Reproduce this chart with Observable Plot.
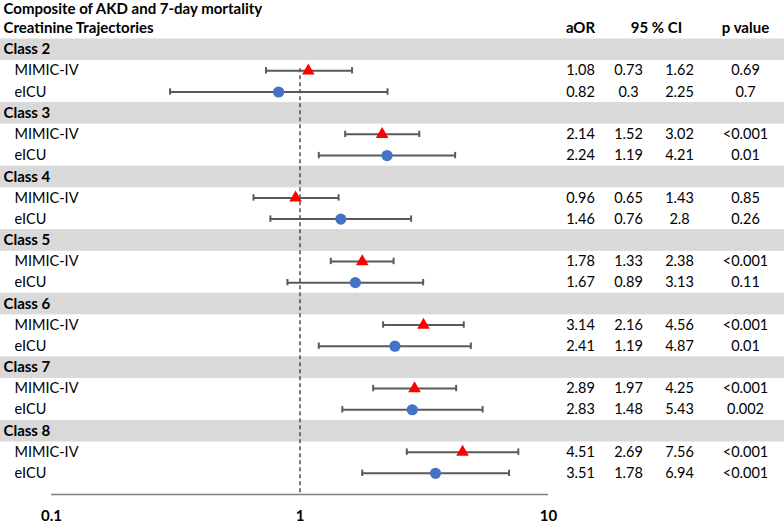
<!DOCTYPE html>
<html>
<head>
<meta charset="utf-8">
<script src="https://cdn.jsdelivr.net/npm/d3@7"></script>
<script src="https://cdn.jsdelivr.net/npm/@observablehq/plot@0.6"></script>
<style>
  html, body { margin: 0; padding: 0; background: #fff; }
  #chart svg { display: block; }
</style>
</head>
<body>
<div id="chart"></div>
<script>
const title = "Composite of AKD and 7-day mortality";
const headerLabel = "Creatinine Trajectories";
const colHeaders = ["aOR", "95 % CI", "p value"];
const classes = ["Class 2", "Class 3", "Class 4", "Class 5", "Class 6", "Class 7", "Class 8"];
const seriesNames = ["MIMIC-IV", "eICU"];

const mimicOR = [1.08, 2.14, 0.96, 1.78, 3.14, 2.89, 4.51];
const mimicLo = [0.73, 1.52, 0.65, 1.33, 2.16, 1.97, 2.69];
const mimicHi = [1.62, 3.02, 1.43, 2.38, 4.56, 4.25, 7.56];
const mimicP  = ["0.69", "<0.001", "0.85", "<0.001", "<0.001", "<0.001", "<0.001"];

const eicuOR = [0.82, 2.24, 1.46, 1.67, 2.41, 2.83, 3.51];
const eicuLo = [0.3, 1.19, 0.76, 0.89, 1.19, 1.48, 1.78];
const eicuHi = [2.25, 4.21, 2.8, 3.13, 4.87, 5.43, 6.94];
const eicuP  = ["0.7", "0.01", "0.26", "0.11", "0.01", "0.002", "<0.001"];

const xTicks = [0.1, 1, 10];

// Build rows
const bands = classes.map((c, i) => ({label: c, row: 1 + 3 * i}));
const rows = [];
classes.forEach((c, i) => {
  rows.push({series: seriesNames[0], row: 2 + 3 * i, or: mimicOR[i], lo: mimicLo[i], hi: mimicHi[i], p: mimicP[i]});
  rows.push({series: seriesNames[1], row: 3 + 3 * i, or: eicuOR[i], lo: eicuLo[i], hi: eicuHi[i], p: eicuP[i]});
});
const mimicRows = rows.filter(d => d.series === seriesNames[0]);
const eicuRows = rows.filter(d => d.series === seriesNames[1]);
const lastRow = 3 * classes.length + 1;

const barColor = "#595959";
const font = "Lato, 'Open Sans', sans-serif";
const fsR = 14.5, fsB = 15;

const chart = Plot.plot({
  width: 784,
  height: 525,
  marginLeft: 51,
  marginRight: 236,
  marginTop: 0,
  marginBottom: 31,
  style: {fontFamily: font, fontSize: "14px", color: "#000", background: "#fff"},
  x: {type: "log", domain: [0.1, 10]},
  y: {domain: [-1.3195, lastRow], reverse: true, axis: null},
  marks: [
    // grey class bands spanning the full width
    Plot.rect(bands, {y1: d => d.row - 0.5, y2: d => d.row + 0.52, fill: "#d9d9d9", insetLeft: -51, insetRight: -236}),
    // reference line at 1
    Plot.ruleX([1], {y1: 1.9, y2: lastRow, stroke: "#333333", strokeWidth: 1.3, strokeDasharray: "4,3"}),
    // axis line
    Plot.ruleY([lastRow], {stroke: "#808080", strokeWidth: 1.5}),
    Plot.axisX({ticks: xTicks, tickSize: 0, tickPadding: 16, tickFormat: d => String(d), fontWeight: "bold", fontSize: fsB, fill: "#000"}),
    // error bars
    Plot.ruleY(rows, {y: "row", x1: "lo", x2: "hi", stroke: barColor, strokeWidth: 2}),
    Plot.ruleX(rows, {x: "lo", y1: d => d.row - 0.15, y2: d => d.row + 0.15, stroke: barColor, strokeWidth: 2}),
    Plot.ruleX(rows, {x: "hi", y1: d => d.row - 0.15, y2: d => d.row + 0.15, stroke: barColor, strokeWidth: 2}),
    // points
    Plot.dot(mimicRows, {x: "or", y: "row", symbol: "triangle", r: 4.7, fill: "#ff0000", stroke: "none"}),
    Plot.dot(eicuRows, {x: "or", y: "row", symbol: "circle", r: 5.6, fill: "#4472c4", stroke: "none"}),
    // title & header
    Plot.text([title], {y: -0.93, frameAnchor: "left", dx: -48, textAnchor: "start", fontWeight: "bold", fontSize: fsB, fill: "#000"}),
    Plot.text([headerLabel], {y: 0, frameAnchor: "left", dx: -48, textAnchor: "start", fontWeight: "bold", fontSize: fsB, fill: "#000"}),
    Plot.text([colHeaders[0]], {y: 0, frameAnchor: "right", dx: 32, textAnchor: "middle", fontWeight: "bold", fontSize: fsB, fill: "#000"}),
    Plot.text([colHeaders[1]], {y: 0, frameAnchor: "right", dx: 108, textAnchor: "middle", fontWeight: "bold", fontSize: fsB, fill: "#000"}),
    Plot.text([colHeaders[2]], {y: 0, frameAnchor: "right", dx: 197, textAnchor: "middle", fontWeight: "bold", fontSize: fsB, fill: "#000"}),
    // class labels
    Plot.text(bands, {y: "row", text: "label", frameAnchor: "left", dx: -48, textAnchor: "start", fontWeight: "bold", fontSize: fsB, fill: "#000"}),
    // series labels
    Plot.text(rows, {y: "row", text: "series", frameAnchor: "left", dx: -37, textAnchor: "start", fontSize: fsR, fill: "#000"}),
    // table columns
    Plot.text(rows, {y: "row", text: d => String(d.or), frameAnchor: "right", dx: 32, textAnchor: "middle", fontSize: fsR, fill: "#000"}),
    Plot.text(rows, {y: "row", text: d => String(d.lo), frameAnchor: "right", dx: 80, textAnchor: "middle", fontSize: fsR, fill: "#000"}),
    Plot.text(rows, {y: "row", text: d => String(d.hi), frameAnchor: "right", dx: 131, textAnchor: "middle", fontSize: fsR, fill: "#000"}),
    Plot.text(rows, {y: "row", text: "p", frameAnchor: "right", dx: 197, textAnchor: "middle", fontSize: fsR, fill: "#000"})
  ]
});
document.getElementById("chart").appendChild(chart);
</script>
</body>
</html>
